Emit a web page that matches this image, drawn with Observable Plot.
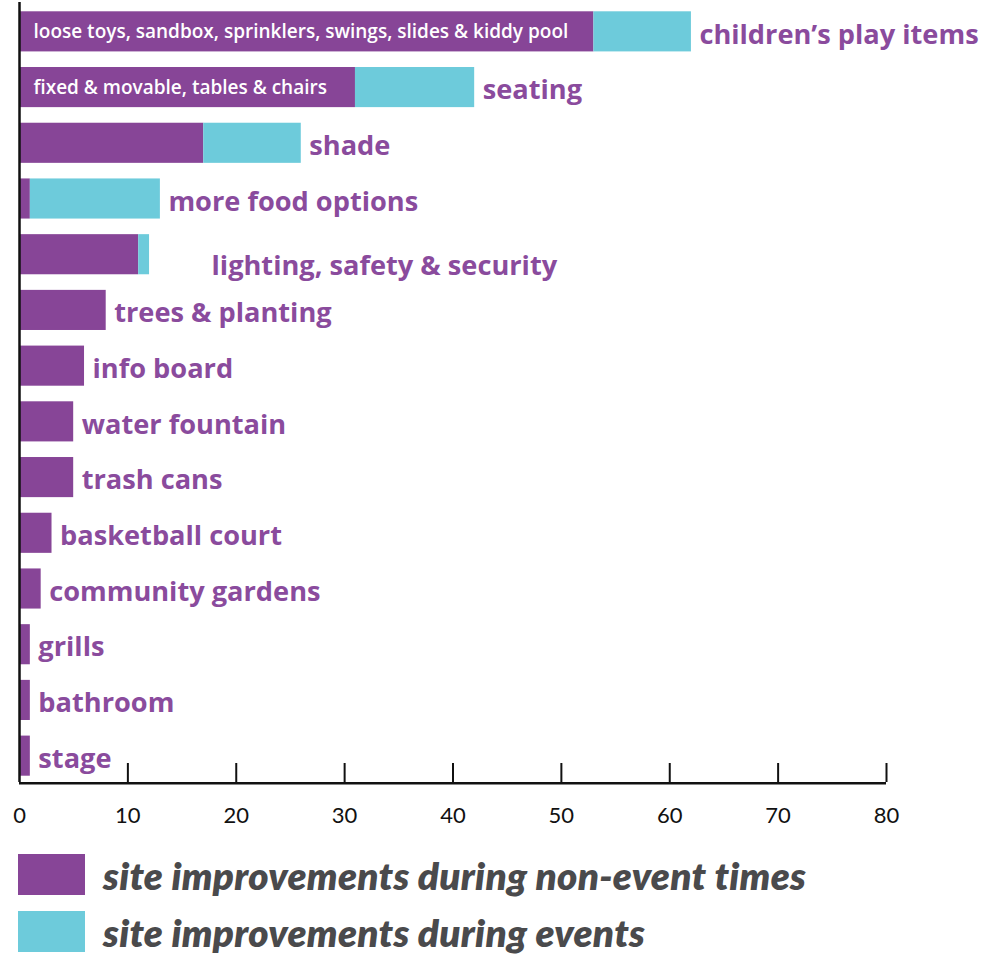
<!DOCTYPE html>
<html>
<head>
<meta charset="utf-8">
<script src="https://cdn.jsdelivr.net/npm/d3@7"></script>
<script src="https://cdn.jsdelivr.net/npm/@observablehq/plot@0.6"></script>
<style>
  body { margin: 0; background: #fff; }
  #legend { font-family: Lato, sans-serif; }
  .row { display: flex; align-items: center; height: 57px; }
  .sw { width: 67px; height: 41px; margin-left: 18px; margin-right: 18px; }
  .lt { font-size: 38.6px; font-weight: 800; font-style: italic; color: #4a4a4c; letter-spacing: 0.3px; }
</style>
</head>
<body>
<div id="chart"></div>
<div id="legend"></div>
<script>
const categories = ["children’s play items", "seating", "shade", "more food options",
  "lighting, safety & security", "trees & planting", "info board", "water fountain",
  "trash cans", "basketball court", "community gardens", "grills", "bathroom", "stage"];
const nonEvent = [53, 31, 17, 1, 11, 8, 6, 5, 5, 3, 2, 1, 1, 1];
const duringEvents = [9, 11, 9, 12, 1, 0, 0, 0, 0, 0, 0, 0, 0, 0];
const details = ["loose toys, sandbox, sprinklers, swings, slides & kiddy pool",
  "fixed & movable, tables & chairs", "", "", "", "", "", "", "", "", "", "", "", ""];
const seriesNames = ["site improvements during non-event times", "site improvements during events"];
const seriesColors = ["#874597", "#6dcbdb"];
const xTicks = [0, 10, 20, 30, 40, 50, 60, 70, 80];

const rows = [];
categories.forEach((c, i) => {
  rows.push({category: c, series: seriesNames[0], value: nonEvent[i]});
  rows.push({category: c, series: seriesNames[1], value: duringEvents[i]});
});
const totals = categories.map((c, i) => ({category: c, total: nonEvent[i] + duringEvents[i], detail: details[i]}));
const special = "lighting, safety & security";
const labelColor = "#8a4b9d";
const labelFont = "'Open Sans', sans-serif";

const chart = Plot.plot({
  width: 997,
  height: 840,
  marginLeft: 19,
  marginRight: 111,
  marginTop: 5,
  marginBottom: 58,
  style: {fontFamily: "Lato, sans-serif", fontSize: "22px", background: "#fff", color: "#111"},
  x: {domain: [0, 80], axis: null},
  y: {domain: categories, axis: null, paddingInner: 0.28, paddingOuter: 0.113, round: false},
  color: {domain: seriesNames, range: seriesColors},
  marks: [
    Plot.barX(rows, {x: "value", y: "category", fill: "series", order: seriesNames}),
    Plot.text(totals.filter(d => d.detail), {x: 0, y: "category", text: "detail", textAnchor: "start",
      dx: 14, fill: "white", fontSize: 19, fontWeight: 600, fontFamily: labelFont}),
    Plot.text(totals.filter(d => d.category !== special), {x: "total", y: "category", text: "category",
      textAnchor: "start", dx: 8, dy: 3, fill: labelColor, fontSize: 27.2, fontWeight: 700, fontFamily: labelFont}),
    Plot.text(totals.filter(d => d.category === special), {x: "total", y: "category", text: "category",
      textAnchor: "start", dx: 62, dy: 12, fill: labelColor, fontSize: 27.2, fontWeight: 700, fontFamily: labelFont}),
    Plot.ruleX(xTicks.slice(1), {stroke: "#111", strokeWidth: 2, insetTop: 758}),
    Plot.ruleX([0], {stroke: "#111", strokeWidth: 2.5, insetTop: -3}),
    Plot.ruleY([categories[categories.length - 1]], {x1: 0, x2: 80, dy: 27, stroke: "#111", strokeWidth: 2.5}),
    Plot.axisX({ticks: xTicks, tickSize: 0, tickPadding: 25, fontSize: 22, fill: "#111", tickFormat: d => String(d)})
  ]
});
document.getElementById("chart").appendChild(chart);

const legend = document.getElementById("legend");
legend.style.paddingTop = "6px";
seriesNames.forEach((name, i) => {
  const row = document.createElement("div");
  row.className = "row";
  const sw = document.createElement("div");
  sw.className = "sw";
  sw.style.background = seriesColors[i];
  const t = document.createElement("div");
  t.className = "lt";
  t.textContent = name;
  row.appendChild(sw);
  row.appendChild(t);
  legend.appendChild(row);
});
</script>
</body>
</html>
